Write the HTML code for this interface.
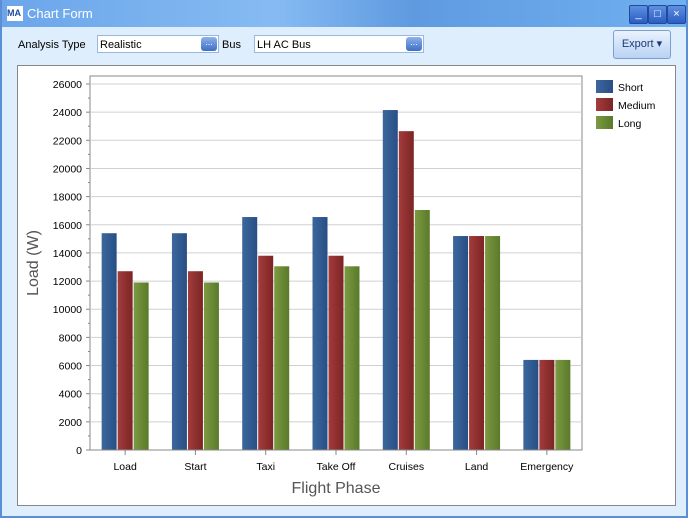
<!DOCTYPE html>
<html><head><style>
body{margin:0;width:688px;height:522px;overflow:hidden;font-family:"Liberation Sans",sans-serif;background:#fff}
#win{position:absolute;left:0;top:0;width:684px;height:516px;background:#dfeefc;border:2px solid #5a8fd8;border-top:none}
#title{position:absolute;left:0;top:0;width:684px;height:27px;background:linear-gradient(90deg,#6ba6ea,#86bbf2 40%,#5f9ae0 60%,#6fb0f0);color:#fff;font-size:13px}
.btn{position:absolute;top:5px;width:17px;height:17px;background:linear-gradient(#5d8fe0,#2c5cc4);border:1px solid #234a9a;border-radius:2px;color:#fff;font-size:11px;text-align:center;line-height:16px}
.lbl{position:absolute;font-size:11px;color:#000}
.combo{position:absolute;height:18px;background:#fff;border:1px solid #9bb7dc;font-size:11px;line-height:18px;padding-left:2px;box-sizing:border-box}
.dots{position:absolute;right:1px;top:1px;width:16px;height:14px;background:linear-gradient(#8fb3ea,#3d6fc6);border-radius:3px;color:#fff;font-size:9px;text-align:center;line-height:11px}
</style></head><body>
<div id="win">
<div id="title">
<div style="position:absolute;left:5px;top:6px;width:16px;height:15px;background:#fff;color:#1a4aa0;font-size:9px;font-weight:bold;line-height:15px">MA</div>
<span style="position:absolute;left:25px;top:6px">Chart Form</span>
<div class="btn" style="left:627px">_</div>
<div class="btn" style="left:646px">□</div>
<div class="btn" style="left:665px">×</div>
</div>
<span class="lbl" style="left:16px;top:39px">Analysis Type</span>
<div class="combo" style="left:95px;top:35px;width:122px">Realistic<div class="dots">...</div></div>
<span class="lbl" style="left:220px;top:39px">Bus</span>
<div class="combo" style="left:252px;top:35px;width:170px">LH AC Bus<div class="dots">...</div></div>
<div style="position:absolute;left:611px;top:30px;width:56px;height:27px;background:linear-gradient(#eaf2fd,#b9d2f3);border:1px solid #7d9fd0;border-radius:3px;font-size:11px;line-height:27px;text-align:center;color:#1a3a7a">Export ▾</div>
<div style="position:absolute;left:15px;top:65px;width:657px;height:439px;background:#fff;border:1px solid #888"></div>
</div>
<svg id="chart" width="688" height="522" style="position:absolute;left:0;top:0"></svg>
<script>
const categories=["Load","Start","Taxi","Take Off","Cruises","Land","Emergency"];
const shortVals=[15400,15400,16550,16550,24150,15200,6400];
const mediumVals=[12700,12700,13800,13800,22650,15200,6400];
const longVals=[11900,11900,13050,13050,17050,15200,6400];
const yTicks=[0,2000,4000,6000,8000,10000,12000,14000,16000,18000,20000,22000,24000,26000];
const seriesNames=["Short","Medium","Long"];
const colors=[["#3d679c","#274f86"],["#a33c3c","#7c2424"],["#7c9a42","#5a7a2a"]];
const L=90,R=582,T=76,B=450,YMAX=26000,YTOP=84;
const ns="http://www.w3.org/2000/svg",svg=document.getElementById('chart');
function y(v){return B-(v/YMAX)*(B-YTOP);}
function x(i){return L+(i+0.5)*(R-L)/categories.length;}
function mk(t,a,p){const e=document.createElementNS(ns,t);for(const k in a)e.setAttribute(k,a[k]);(p||svg).appendChild(e);return e;}
const defs=mk('defs',{});
colors.forEach((c,i)=>{const g=mk('linearGradient',{id:'g'+i,x1:0,y1:0,x2:1,y2:0},defs);mk('stop',{offset:0,'stop-color':c[0]},g);mk('stop',{offset:1,'stop-color':c[1]},g);});
mk('rect',{x:L,y:T,width:R-L,height:B-T,fill:'#fff',stroke:'#888'});
yTicks.forEach(v=>{
 if(v>0){const gl=mk('line',{x1:L,x2:R,y1:y(v),y2:y(v),stroke:'#d0d0d0'});}
 mk('line',{x1:L-4,x2:L,y1:y(v),y2:y(v),stroke:'#888'});
 if(v<YMAX)mk('line',{x1:L-2,x2:L,y1:y(v+1000),y2:y(v+1000),stroke:'#888'});
 const t=mk('text',{x:L-8,y:y(v)+4,'text-anchor':'end','font-size':10.5,'font-family':'Liberation Sans'});t.textContent=v;
 
});
const all=[shortVals,mediumVals,longVals],bw=15,gap=1;
categories.forEach((c,i)=>{
 const cx=x(i);
 mk('line',{x1:cx,x2:cx,y1:B,y2:B+5,stroke:'#888'});
 all.forEach((s,j)=>{
  const bx=cx-1.5*bw-gap+j*(bw+gap);
  const r=mk('rect',{x:bx,y:y(s[i]),width:bw,height:B-y(s[i]),fill:'url(#g'+j+')'});
  
  
 });
 const t=mk('text',{x:cx,y:B+20,'text-anchor':'middle','font-size':10.5,'font-family':'Liberation Sans'});t.textContent=c;
 
});
mk('line',{x1:L,x2:R,y1:B,y2:B,stroke:'#888'});
const xt=mk('text',{x:336,y:493,'text-anchor':'middle','font-size':16,fill:'#555','font-family':'Liberation Sans'});xt.textContent='Flight Phase';

const yt=mk('text',{x:0,y:0,'text-anchor':'middle','font-size':16,fill:'#555','font-family':'Liberation Sans',transform:'translate(38,263) rotate(-90)'});yt.textContent='Load (W)';

seriesNames.forEach((n,j)=>{
 const g=mk('g',{});
 
 mk('rect',{x:596,y:80+j*18,width:17,height:13,fill:'url(#g'+j+')'},g);
 const t=mk('text',{x:618,y:91+j*18,'font-size':10.5,'font-family':'Liberation Sans'},g);t.textContent=n;
});
</script>
</body></html>
